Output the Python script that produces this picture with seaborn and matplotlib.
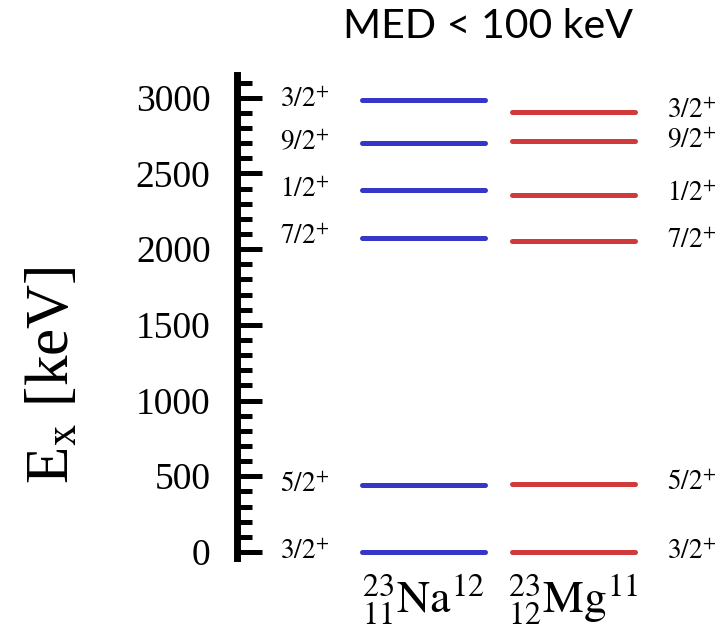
import matplotlib
matplotlib.use("Agg")
import matplotlib.pyplot as plt
import matplotlib.transforms as mtransforms
from matplotlib.ticker import MultipleLocator
import pandas as pd
import seaborn as sns

# Level scheme of the mirror pair 23Na / 23Mg
nuclei = ["Na", "Mg"]
nucleus_labels = [r"${}^{23}_{11}\mathrm{Na}^{12}$", r"${}^{23}_{12}\mathrm{Mg}^{11}$"]
na_energies = [0, 440, 2076, 2391, 2704, 2982]
mg_energies = [0, 451, 2051, 2359, 2715, 2908]
na_spins = ["3/2", "5/2", "7/2", "1/2", "9/2", "3/2"]
mg_spins = ["3/2", "5/2", "7/2", "1/2", "9/2", "3/2"]
y_ticks = [0, 500, 1000, 1500, 2000, 2500, 3000]
title = "MED < 100 keV"

colors = {"Na": "#3636c8", "Mg": "#d03a3a"}
half_width = 0.41

rows = []
for i, (nuc, energies) in enumerate(zip(nuclei, [na_energies, mg_energies])):
    for j, e in enumerate(energies):
        for dx in (-half_width, half_width):
            rows.append({"nucleus": nuc, "level": f"{nuc}{j}", "x": i + dx, "energy": e})
levels = pd.DataFrame(rows)

sns.set_theme(style="ticks")
plt.rcParams["font.family"] = ["Liberation Serif", "DejaVu Serif"]
plt.rcParams["mathtext.fontset"] = "stix"
plt.rcParams["text.color"] = "black"
plt.rcParams["ytick.color"] = "black"
plt.rcParams["ytick.labelcolor"] = "black"

W, H = 725, 632
fig = plt.figure(figsize=(W / 100, H / 100), dpi=100)
ax_left, ax_right, ax_top, ax_bot = 237, 725, 75, 558
ax = fig.add_axes([ax_left / W, (H - ax_bot) / H, (ax_right - ax_left) / W, (ax_bot - ax_top) / H])

sns.lineplot(data=levels, x="x", y="energy", hue="nucleus", units="level",
             estimator=None, sort=False, palette=colors, linewidth=3.6,
             legend=False, ax=ax)

ax.set_xlim(-1.24, 2.01)
ax.set_ylim(-40, 3150)
ax.set_xlabel("")
ax.set_ylabel("")
ax.set_xticks([])
ax.set_yticks(y_ticks)
ax.yaxis.set_minor_locator(MultipleLocator(100))
ax.tick_params(axis="y", which="major", direction="in", length=18, width=3.6,
               labelsize=27, pad=19, color="black", labelcolor="black")
ax.tick_params(axis="y", which="minor", direction="in", length=11, width=3.6, color="black")
for side in ("top", "right", "bottom"):
    ax.spines[side].set_visible(False)
ax.spines["left"].set_linewidth(5)
ax.spines["left"].set_color("black")
ax.patch.set_alpha(0)

# spin-parity labels
for e, s in zip(na_energies, na_spins):
    ax.text(-0.953, e, rf"${s}^{{+}}$", fontsize=19.5, ha="left", va="center", color="black")
for e, s in zip(mg_energies, mg_spins):
    ax.text(1.627, e, rf"${s}^{{+}}$", fontsize=19.5, ha="left", va="center", color="black")

# nucleus names under each column
trans = mtransforms.blended_transform_factory(ax.transData, ax.transAxes)
for i, lab in enumerate(nucleus_labels):
    ax.text(i, -0.087, lab, transform=trans, fontsize=33, ha="center", va="center",
            color="black")

fig.text(54 / W, 1 - 375 / H, r"E$_{\mathrm{x}}$ [keV]", rotation=90,
         fontsize=44, ha="center", va="center", color="black")
fig.text(488 / W, 1 - 27 / H, title, fontsize=29.5, ha="center", va="center",
         family=["Lato", "DejaVu Sans"], color="black")

fig.savefig("out.png", dpi=100)
